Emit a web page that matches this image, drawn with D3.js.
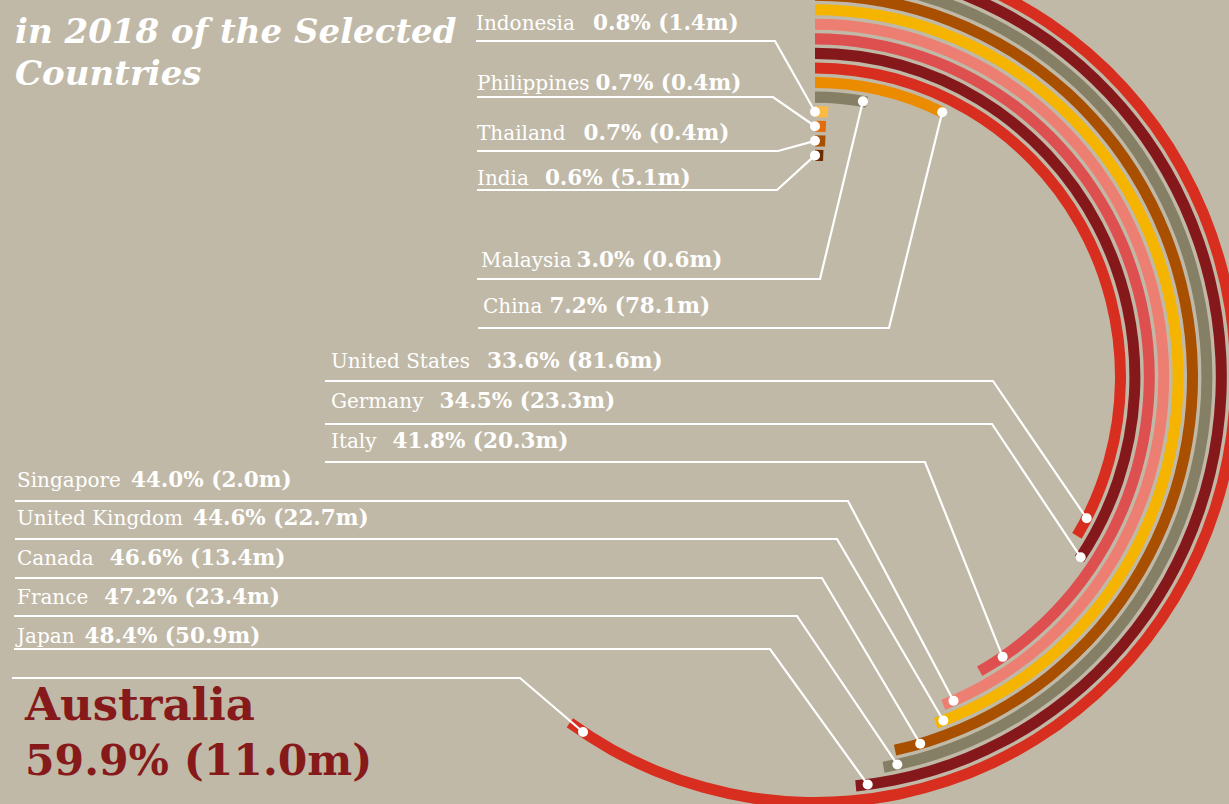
<!DOCTYPE html>
<html>
<head>
<meta charset="utf-8">
<script src="https://cdn.jsdelivr.net/npm/d3@7"></script>
<style>
  body { margin: 0; background: #c1b9a7; }
  svg { display: block; }
  text { font-family: "DejaVu Serif", serif; }
</style>
</head>
<body>
<div class="canvas"></div>
<script>
// data, outermost ring first
var countries = ["Australia", "Japan", "France", "Canada", "United Kingdom", "Singapore", "Italy",
                 "Germany", "United States", "China", "Malaysia", "Indonesia", "Philippines", "Thailand", "India"];
var penetration = [59.9, 48.4, 47.2, 46.6, 44.6, 44.0, 41.8, 34.5, 33.6, 7.2, 3.0, 0.8, 0.7, 0.7, 0.6];
var usersM = [11.0, 50.9, 23.4, 13.4, 22.7, 2.0, 20.3, 23.3, 81.6, 78.1, 0.6, 1.4, 0.4, 0.4, 5.1];
var ringColors = ["#d72e1f", "#85181b", "#857f66", "#a84f00", "#f5b400", "#ed7f72", "#de5050",
                  "#85181b", "#d72e1f", "#eb8c00", "#857f66", "#f9bb44", "#e66c0a", "#a84f00", "#6e2c00"];
var titleLines = ["in 2018 of  the Selected", "Countries"];

var pageWidth = 1229,
    pageHeight = 804;
var cx = 815, cy = 377, squashY = 1.0115; // picture is a tiny bit taller than wide
var outerR = 420.7, innerR = 219.1, bandWidth = 11;

// where each callout sits (text baseline, underline, bend point, how far back from the arc end the dot is)
var labelLayout = {
    "Indonesia":      {x:476, y:30,  gap:18, ly:41,  lx:476, bx:775, back:99},
    "Philippines":    {x:477, y:90,  gap:6,  ly:97,  lx:477, bx:773, back:99},
    "Thailand":       {x:477, y:140, gap:18, ly:151, lx:477, bx:778, back:99},
    "India":          {x:477, y:185, gap:16, ly:190, lx:477, bx:777, back:99},
    "Malaysia":       {x:481, y:267, gap:5,  ly:279, lx:477, bx:820, back:4},
    "China":          {x:483, y:313, gap:7,  ly:328, lx:478, bx:889, back:0},
    "United States":  {x:331, y:368, gap:17, ly:381, lx:325, bx:993, back:20},
    "Germany":        {x:331, y:408, gap:16, ly:424, lx:325, bx:992, back:2},
    "Italy":          {x:331, y:448, gap:16, ly:462, lx:325, bx:925, back:27},
    "Singapore":      {x:17,  y:487, gap:10, ly:501, lx:15,  bx:848, back:11},
    "United Kingdom": {x:17,  y:525, gap:10, ly:539, lx:15,  bx:837, back:8},
    "Canada":         {x:17,  y:565, gap:16, ly:578, lx:15,  bx:822, back:26},
    "France":         {x:17,  y:604, gap:16, ly:616, lx:14,  bx:797, back:14},
    "Japan":          {x:17,  y:643, gap:10, ly:649, lx:14,  bx:770, back:12},
    "Australia":      {x:25,  y:720, gap:0,  ly:678, lx:12,  bx:520, back:16}
};

var svg = d3.select('.canvas')
    .append('svg')
    .attr('width', pageWidth)
    .attr('height', pageHeight);

svg.append('rect')
    .attr('width', pageWidth)
    .attr('height', pageHeight)
    .attr('fill', '#c1b9a7');

var rows = countries.map(function(c, i){
    return {name:c, pct:penetration[i], users:usersM[i]};
});

var angle = d3.scaleLinear().domain([0, 100]).range([0, 2*Math.PI]);
var radius = d3.scalePoint().domain(countries).range([outerR, innerR]);
var color = d3.scaleOrdinal().domain(countries).range(ringColors);

var arc = d3.arc()
    .innerRadius(function(d){ return radius(d.name) - bandWidth/2; })
    .outerRadius(function(d){ return radius(d.name) + bandWidth/2; })
    .startAngle(0)
    .endAngle(function(d){ return angle(d.pct); });

var rings = svg.append('g')
    .attr('class', 'rings')
    .attr('transform', 'translate('+cx+','+cy+') scale(1,'+squashY+')');

rings.selectAll('path')
    .data(rows)
    .enter()
    .append('path')
    .attr('d', arc)
    .attr('fill', function(d){ return color(d.name); });

function dotPos(d){
    var r = radius(d.name);
    var a = Math.max(0, angle(d.pct) - labelLayout[d.name].back/r);
    return [cx + r*Math.sin(a), cy - r*squashY*Math.cos(a)];
}

// leader lines + dots
var leaders = svg.append('g').attr('class', 'leaders');
rows.forEach(function(d){
    var L = labelLayout[d.name], p = dotPos(d);
    leaders.append('path')
        .attr('d', 'M'+L.lx+','+L.ly+'H'+L.bx+'L'+p[0]+','+p[1])
        .attr('fill', 'none')
        .attr('stroke', '#fff')
        .attr('stroke-width', 2.2);
    leaders.append('circle')
        .attr('cx', p[0])
        .attr('cy', p[1])
        .attr('r', 5)
        .attr('fill', '#fff');
});

function fmt(d){ return d.pct.toFixed(1)+'% ('+d.users.toFixed(1)+'m)'; }

// small labels
var labels = svg.append('g').attr('class', 'labels');
rows.filter(function(d){ return d.name !== 'Australia'; }).forEach(function(d){
    var L = labelLayout[d.name];
    var t = labels.append('text')
        .attr('x', L.x)
        .attr('y', L.y)
        .attr('fill', '#fff')
        .style('font-size', '20px');
    t.append('tspan').text(d.name);
    t.append('tspan')
        .attr('dx', L.gap)
        .style('font-weight', 'bold')
        .style('font-size', '21.5px')
        .text(fmt(d));
});

// the highlighted one
var au = rows[0], AL = labelLayout['Australia'];
labels.append('text')
    .attr('x', AL.x)
    .attr('y', AL.y)
    .attr('fill', '#861a1a')
    .style('font-weight', 'bold')
    .style('font-size', '45px')
    .text(au.name);
labels.append('text')
    .attr('x', AL.x)
    .attr('y', AL.y + 55)
    .attr('fill', '#861a1a')
    .style('font-weight', 'bold')
    .style('font-size', '42.5px')
    .text(fmt(au));

// title (first line is cut off by the frame)
svg.append('g').attr('class', 'title')
    .selectAll('text')
    .data(titleLines)
    .enter()
    .append('text')
    .attr('x', 15)
    .attr('y', function(d, i){ return 43 + i*42; })
    .attr('fill', '#fff')
    .style('font-weight', 'bold')
    .style('font-style', 'italic')
    .style('font-size', '34px')
    .text(function(d){ return d; });
</script>
</body>
</html>
